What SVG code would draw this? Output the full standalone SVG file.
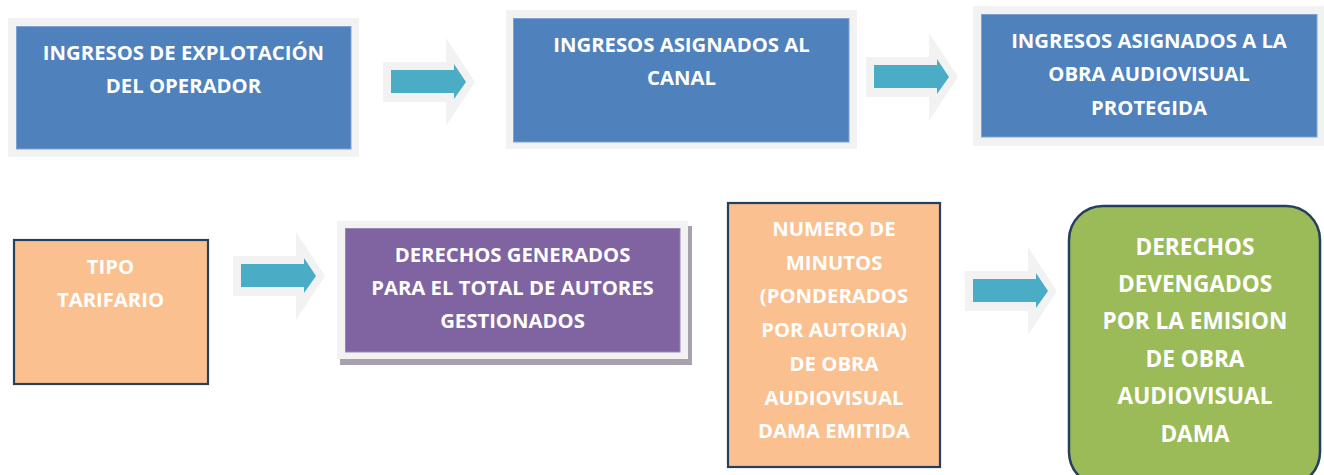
<svg xmlns="http://www.w3.org/2000/svg" width="1324" height="475" viewBox="0 0 1324 475">
<defs>
<style>
.frame{fill:#f2f2f2}
.blue{fill:#4f81bd;stroke:#7ea3d3;stroke-width:1}
.peach{fill:#fac090;stroke:#253f5f;stroke-width:2.2}
.purple{fill:#8064a2;stroke:#9a86b6;stroke-width:1}
.green{fill:#9bbb59;stroke:#253f5f;stroke-width:2.5}
.t{font-family:"Open Sans","DejaVu Sans",sans-serif;font-weight:bold;font-size:20.3px;fill:#ffffff;text-anchor:middle}
.tg{font-size:22.6px}
.ag{fill:#f2f2f2}
.at{fill:#4bacc6}
</style>
<g id="arrowShape">
<path class="ag" d="M0,-20 H63 V-44 L92,0 L63,44 V20 H0 Z"/>
<path class="at" d="M8,-12 H71 V-18 L83,0 L71,17 V11 H8 Z"/>
</g>
</defs>
<rect width="1324" height="475" fill="#ffffff"/>
<g id="connectors">
<use href="#arrowShape" transform="translate(383,82)"/>
<use href="#arrowShape" transform="translate(866,77)"/>
<use href="#arrowShape" transform="translate(233,276)"/>
<use href="#arrowShape" transform="translate(965,291)"/>
</g>
<g id="n1">
<rect class="frame" x="8" y="18" width="351" height="139"/>
<rect class="blue" x="16.5" y="26.5" width="334.5" height="122.5"/>
<text class="t" x="183.5" y="60">INGRESOS DE EXPLOTACIÓN</text>
<text class="t" x="183.5" y="93">DEL OPERADOR</text>
</g>
<g id="n2">
<rect class="frame" x="506" y="10" width="351" height="139"/>
<rect class="blue" x="513.5" y="18.5" width="335.5" height="123.5"/>
<text class="t" x="681.5" y="52">INGRESOS ASIGNADOS AL</text>
<text class="t" x="681.5" y="85">CANAL</text>
</g>
<g id="n3">
<rect class="frame" x="973" y="6" width="352" height="140"/>
<rect class="blue" x="981.5" y="14.5" width="335.5" height="122.5"/>
<text class="t" x="1149" y="48">INGRESOS ASIGNADOS A LA</text>
<text class="t" x="1149" y="81">OBRA AUDIOVISUAL</text>
<text class="t" x="1149" y="115">PROTEGIDA</text>
</g>
<g id="n4">
<rect class="peach" x="14" y="240" width="194" height="144"/>
<text class="t" x="110.5" y="274">TIPO</text>
<text class="t" x="110.5" y="307">TARIFARIO</text>
</g>
<g id="n5">
<rect x="340" y="226" width="352" height="139" fill="#a7a1ae"/>
<rect class="frame" x="337" y="221" width="351" height="138"/>
<rect class="purple" x="345.5" y="228.5" width="334.5" height="123.5"/>
<text class="t" x="512.5" y="262">DERECHOS GENERADOS</text>
<text class="t" x="512.5" y="295">PARA EL TOTAL DE AUTORES</text>
<text class="t" x="512.5" y="328">GESTIONADOS</text>
</g>
<g id="n6">
<rect class="peach" x="728" y="203" width="212" height="264"/>
<text class="t" x="834" y="236">NUMERO DE</text>
<text class="t" x="834" y="270">MINUTOS</text>
<text class="t" x="834" y="303">(PONDERADOS</text>
<text class="t" x="834" y="337">POR AUTORIA)</text>
<text class="t" x="834" y="371">DE OBRA</text>
<text class="t" x="834" y="405">AUDIOVISUAL</text>
<text class="t" x="834" y="438">DAMA EMITIDA</text>
</g>
<g id="n7">
<rect class="green" x="1069" y="206" width="251" height="280" rx="34"/>
<text class="t tg" x="1195" y="255">DERECHOS</text>
<text class="t tg" x="1195" y="292">DEVENGADOS</text>
<text class="t tg" x="1195" y="329">POR LA EMISION</text>
<text class="t tg" x="1195" y="367">DE OBRA</text>
<text class="t tg" x="1195" y="404">AUDIOVISUAL</text>
<text class="t tg" x="1195" y="442">DAMA</text>
</g>
</svg>
